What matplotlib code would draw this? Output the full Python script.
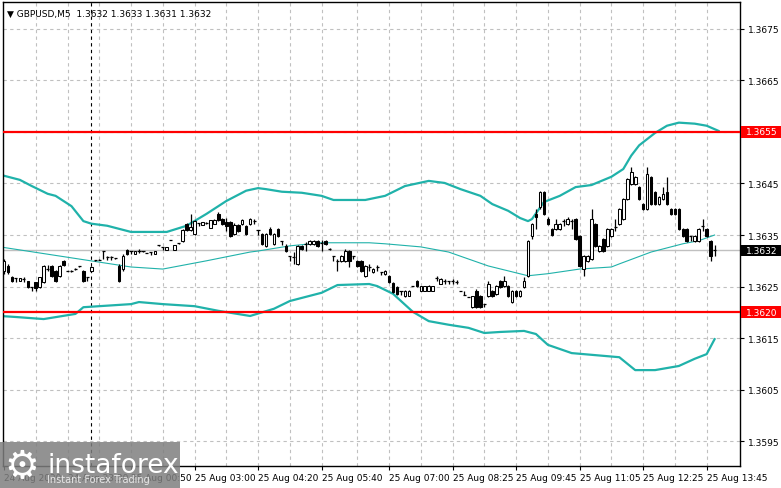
import matplotlib.pyplot as plt
from matplotlib.patches import Rectangle
from matplotlib.transforms import blended_transform_factory

# GBPUSD M5 candles
opens = [1.36280, 1.36290, 1.36269, 1.36267, 1.36261, 1.36265, 1.36261, 1.36249, 1.36259, 1.36249,
         1.36259, 1.36284, 1.36290, 1.36280, 1.36271, 1.36300, 1.36280, 1.36280, 1.36284, 1.36290,
         1.36280, 1.36269, 1.36280, 1.36302, 1.36302, 1.36319, 1.36307, 1.36307, 1.36306, 1.36290,
         1.36284, 1.36321, 1.36319, 1.36313, 1.36319, 1.36319, 1.36315, 1.36317, 1.36313, 1.36331,
         1.36327, 1.36321, 1.36340, 1.36321, 1.36335, 1.36339, 1.36372, 1.36360, 1.36352, 1.36373,
         1.36370, 1.36373, 1.36364, 1.36372, 1.36391, 1.36381, 1.36375, 1.36375, 1.36352, 1.36370,
         1.36372, 1.36368, 1.36372, 1.36377, 1.36360, 1.36352, 1.36329, 1.36362, 1.36333, 1.36362,
         1.36339, 1.36329, 1.36309, 1.36307, 1.36294, 1.36329, 1.36333, 1.36333, 1.36333, 1.36339,
         1.36335, 1.36339, 1.36323, 1.36309, 1.36300, 1.36300, 1.36300, 1.36319, 1.36309, 1.36300,
         1.36300, 1.36271, 1.36288, 1.36278, 1.36288, 1.36278, 1.36275, 1.36271, 1.36257, 1.36249,
         1.36242, 1.36232, 1.36232, 1.36251, 1.36261, 1.36242, 1.36242, 1.36242, 1.36242, 1.36267,
         1.36255, 1.36261, 1.36261, 1.36261, 1.36259, 1.36242, 1.36234, 1.36230, 1.36210, 1.36242,
         1.36232, 1.36216, 1.36232, 1.36242, 1.36236, 1.36261, 1.36251, 1.36251, 1.36220, 1.36242,
         1.36232, 1.36249, 1.36271, 1.36348, 1.36391, 1.36404, 1.36434, 1.36381, 1.36362, 1.36362,
         1.36362, 1.36377, 1.36372, 1.36377, 1.36381, 1.36348, 1.36284, 1.36300, 1.36304, 1.36372,
         1.36319, 1.36342, 1.36329, 1.36348, 1.36366, 1.36372, 1.36381, 1.36420, 1.36449, 1.36449,
         1.36443, 1.36410, 1.36401, 1.36463, 1.36434, 1.36410, 1.36420, 1.36434, 1.36401, 1.36401,
         1.36401, 1.36362, 1.36362, 1.36348, 1.36339, 1.36339, 1.36368, 1.36362, 1.36339, 1.36320]
highs = [1.36304, 1.36294, 1.36271, 1.36267, 1.36267, 1.36269, 1.36261, 1.36249, 1.36259, 1.36269,
         1.36292, 1.36292, 1.36292, 1.36282, 1.36292, 1.36302, 1.36280, 1.36282, 1.36286, 1.36290,
         1.36282, 1.36269, 1.36290, 1.36302, 1.36304, 1.36319, 1.36309, 1.36309, 1.36306, 1.36294,
         1.36313, 1.36323, 1.36319, 1.36319, 1.36323, 1.36319, 1.36315, 1.36317, 1.36319, 1.36331,
         1.36327, 1.36327, 1.36340, 1.36331, 1.36335, 1.36362, 1.36373, 1.36391, 1.36379, 1.36373,
         1.36375, 1.36375, 1.36379, 1.36381, 1.36395, 1.36383, 1.36383, 1.36377, 1.36373, 1.36372,
         1.36381, 1.36370, 1.36383, 1.36381, 1.36360, 1.36354, 1.36354, 1.36366, 1.36354, 1.36364,
         1.36339, 1.36333, 1.36309, 1.36317, 1.36331, 1.36331, 1.36337, 1.36340, 1.36340, 1.36340,
         1.36340, 1.36340, 1.36325, 1.36309, 1.36304, 1.36311, 1.36323, 1.36321, 1.36309, 1.36302,
         1.36302, 1.36292, 1.36294, 1.36286, 1.36292, 1.36278, 1.36282, 1.36273, 1.36259, 1.36251,
         1.36242, 1.36243, 1.36243, 1.36251, 1.36263, 1.36251, 1.36251, 1.36253, 1.36251, 1.36271,
         1.36267, 1.36265, 1.36261, 1.36265, 1.36263, 1.36242, 1.36242, 1.36230, 1.36232, 1.36245,
         1.36234, 1.36216, 1.36261, 1.36243, 1.36253, 1.36263, 1.36271, 1.36253, 1.36243, 1.36243,
         1.36243, 1.36269, 1.36340, 1.36373, 1.36401, 1.36436, 1.36436, 1.36385, 1.36364, 1.36381,
         1.36373, 1.36381, 1.36385, 1.36381, 1.36383, 1.36350, 1.36311, 1.36311, 1.36401, 1.36373,
         1.36331, 1.36344, 1.36364, 1.36364, 1.36381, 1.36403, 1.36422, 1.36461, 1.36482, 1.36465,
         1.36445, 1.36412, 1.36482, 1.36465, 1.36436, 1.36426, 1.36443, 1.36463, 1.36403, 1.36403,
         1.36403, 1.36364, 1.36364, 1.36348, 1.36350, 1.36364, 1.36381, 1.36364, 1.36340, 1.36330]
lows = [1.36275, 1.36275, 1.36259, 1.36259, 1.36261, 1.36259, 1.36247, 1.36242, 1.36242, 1.36247,
        1.36257, 1.36280, 1.36269, 1.36259, 1.36269, 1.36290, 1.36280, 1.36278, 1.36282, 1.36288,
        1.36259, 1.36261, 1.36278, 1.36300, 1.36302, 1.36304, 1.36302, 1.36302, 1.36304, 1.36259,
        1.36280, 1.36311, 1.36313, 1.36313, 1.36315, 1.36317, 1.36315, 1.36311, 1.36313, 1.36329,
        1.36321, 1.36321, 1.36340, 1.36321, 1.36333, 1.36337, 1.36358, 1.36358, 1.36350, 1.36368,
        1.36370, 1.36372, 1.36364, 1.36372, 1.36377, 1.36370, 1.36358, 1.36346, 1.36350, 1.36356,
        1.36370, 1.36350, 1.36370, 1.36372, 1.36350, 1.36331, 1.36327, 1.36350, 1.36331, 1.36346,
        1.36331, 1.36317, 1.36300, 1.36294, 1.36292, 1.36321, 1.36319, 1.36331, 1.36331, 1.36327,
        1.36319, 1.36331, 1.36321, 1.36300, 1.36280, 1.36298, 1.36298, 1.36288, 1.36304, 1.36288,
        1.36278, 1.36269, 1.36280, 1.36276, 1.36280, 1.36273, 1.36273, 1.36257, 1.36238, 1.36234,
        1.36234, 1.36230, 1.36232, 1.36251, 1.36249, 1.36242, 1.36242, 1.36242, 1.36242, 1.36261,
        1.36255, 1.36255, 1.36255, 1.36255, 1.36255, 1.36242, 1.36234, 1.36230, 1.36209, 1.36209,
        1.36209, 1.36210, 1.36230, 1.36230, 1.36234, 1.36247, 1.36249, 1.36230, 1.36218, 1.36230,
        1.36230, 1.36247, 1.36269, 1.36342, 1.36362, 1.36401, 1.36389, 1.36370, 1.36348, 1.36360,
        1.36360, 1.36368, 1.36370, 1.36362, 1.36340, 1.36288, 1.36271, 1.36298, 1.36302, 1.36327,
        1.36317, 1.36317, 1.36327, 1.36346, 1.36358, 1.36370, 1.36379, 1.36418, 1.36447, 1.36447,
        1.36418, 1.36399, 1.36399, 1.36408, 1.36408, 1.36408, 1.36418, 1.36408, 1.36389, 1.36389,
        1.36360, 1.36346, 1.36337, 1.36339, 1.36337, 1.36337, 1.36358, 1.36346, 1.36300, 1.36310]
closes = [1.36300, 1.36278, 1.36261, 1.36267, 1.36267, 1.36265, 1.36249, 1.36249, 1.36247, 1.36269,
          1.36290, 1.36284, 1.36271, 1.36261, 1.36290, 1.36292, 1.36280, 1.36280, 1.36284, 1.36290,
          1.36261, 1.36269, 1.36288, 1.36302, 1.36302, 1.36319, 1.36307, 1.36307, 1.36306, 1.36261,
          1.36309, 1.36313, 1.36319, 1.36319, 1.36319, 1.36319, 1.36315, 1.36317, 1.36319, 1.36331,
          1.36327, 1.36327, 1.36340, 1.36331, 1.36335, 1.36360, 1.36360, 1.36366, 1.36377, 1.36373,
          1.36375, 1.36373, 1.36379, 1.36379, 1.36379, 1.36372, 1.36368, 1.36348, 1.36370, 1.36358,
          1.36379, 1.36352, 1.36381, 1.36377, 1.36360, 1.36333, 1.36352, 1.36352, 1.36352, 1.36348,
          1.36339, 1.36319, 1.36309, 1.36307, 1.36329, 1.36323, 1.36333, 1.36339, 1.36339, 1.36329,
          1.36335, 1.36333, 1.36323, 1.36309, 1.36300, 1.36309, 1.36319, 1.36300, 1.36309, 1.36290,
          1.36280, 1.36290, 1.36288, 1.36284, 1.36288, 1.36278, 1.36280, 1.36259, 1.36240, 1.36236,
          1.36242, 1.36242, 1.36242, 1.36251, 1.36251, 1.36251, 1.36251, 1.36251, 1.36251, 1.36267,
          1.36265, 1.36261, 1.36261, 1.36261, 1.36259, 1.36242, 1.36234, 1.36230, 1.36232, 1.36210,
          1.36210, 1.36216, 1.36255, 1.36232, 1.36251, 1.36249, 1.36261, 1.36232, 1.36242, 1.36232,
          1.36242, 1.36261, 1.36339, 1.36372, 1.36385, 1.36434, 1.36391, 1.36372, 1.36350, 1.36372,
          1.36372, 1.36377, 1.36381, 1.36377, 1.36342, 1.36290, 1.36309, 1.36309, 1.36381, 1.36329,
          1.36329, 1.36319, 1.36362, 1.36362, 1.36366, 1.36401, 1.36420, 1.36459, 1.36472, 1.36463,
          1.36420, 1.36401, 1.36469, 1.36410, 1.36410, 1.36424, 1.36430, 1.36410, 1.36391, 1.36391,
          1.36362, 1.36348, 1.36339, 1.36348, 1.36348, 1.36362, 1.36368, 1.36348, 1.36309, 1.36320]

# Bollinger bands, sampled along the chart (bar index, price)
upper_bar = [-1, 4, 7, 11, 13, 17, 20, 22, 26, 32, 41, 46, 51, 56, 61, 64, 66, 70, 75, 80,
             83, 91, 96, 101, 107, 111, 115, 120, 123, 127, 130, 132, 133, 136, 138, 140, 144, 148,
             153, 156, 158, 160, 164, 167, 170, 174, 177, 180]
upper_val = [1.36467, 1.36457, 1.36445, 1.36430, 1.36426, 1.36406, 1.36377, 1.36372, 1.36368, 1.36356,
             1.36356, 1.36368, 1.36391, 1.36416, 1.36436, 1.36441, 1.36439, 1.36434, 1.36432, 1.36426,
             1.36418, 1.36418, 1.36426, 1.36445, 1.36455, 1.36451, 1.36439, 1.36426, 1.36410, 1.36397,
             1.36383, 1.36377, 1.36381, 1.36414, 1.36420, 1.36426, 1.36443, 1.36447, 1.36463, 1.36478,
             1.36504, 1.36524, 1.36548, 1.36562, 1.36568, 1.36566, 1.36562, 1.36552]
mid_bar = [-1, 32, 40, 51, 62, 64, 72, 80, 92, 96, 105, 112, 122, 132, 137, 145, 153, 155,
           163, 171, 175, 179]
mid_val = [1.36327, 1.36288, 1.36284, 1.36300, 1.36317, 1.36319, 1.36329, 1.36335, 1.36335, 1.36333,
           1.36327, 1.36317, 1.36290, 1.36271, 1.36275, 1.36284, 1.36288, 1.36294, 1.36317, 1.36333,
           1.36339, 1.36350]
lower_bar = [-1, 3, 10, 18, 20, 24, 32, 34, 40, 48, 54, 62, 68, 72, 80, 84, 92, 94, 98, 100,
             103, 107, 112, 117, 121, 125, 131, 134, 137, 143, 152, 155, 159, 164, 170, 174, 177, 179]
lower_val = [1.36193, 1.36191, 1.36187, 1.36197, 1.36210, 1.36212, 1.36216, 1.36220, 1.36216, 1.36212,
             1.36203, 1.36193, 1.36207, 1.36222, 1.36238, 1.36253, 1.36255, 1.36251, 1.36236, 1.36222,
             1.36201, 1.36183, 1.36176, 1.36170, 1.36160, 1.36162, 1.36164, 1.36158, 1.36137, 1.36121,
             1.36115, 1.36113, 1.36088, 1.36088, 1.36096, 1.36110, 1.36119, 1.36148]

levels = [1.3655, 1.3620]
last_price = 1.3632
title = "\u25bc GBPUSD,M5  1.3632 1.3633 1.3631 1.3632"

price_ticks = [1.3595, 1.3605, 1.3615, 1.3625, 1.3635, 1.3645, 1.3655, 1.3665, 1.3675]
time_ticks = [0, 16, 32, 48, 64, 80, 97, 113, 129, 145, 161, 177]
time_labels = ["24 Aug 2020", "24 Aug 23:30", "25 Aug 00:50", "25 Aug 03:00", "25 Aug 04:20",
               "25 Aug 05:40", "25 Aug 07:00", "25 Aug 08:25", "25 Aug 09:45", "25 Aug 11:05",
               "25 Aug 12:25", "25 Aug 13:45"]
grid_bars = [8, 16, 24, 32, 40, 48, 56, 64, 72, 80, 89, 97, 105, 113, 121, 129, 137, 145,
             153, 161, 169, 177]
separator_bar = 22

plt.rcParams['font.family'] = ['DejaVu Sans']
fig = plt.figure(figsize=(7.81, 4.89), dpi=100)
ax = fig.add_axes([3 / 781, 22 / 489, 737 / 781, 464 / 489])
ax.set_xlim(-0.25, 185.4)
ax.set_ylim(1.35902, 1.36802)

# grid
for p in price_ticks:
    ax.axhline(p, color='#c0c0c0', lw=0.8, dashes=(3, 3), zorder=0)
for b in grid_bars:
    ax.axvline(b, color='#c0c0c0', lw=0.8, dashes=(3, 3), zorder=0)
ax.axvline(separator_bar, color='black', lw=0.8, dashes=(3, 3), zorder=1)
ax.axhline(last_price, color='#c0c0c0', lw=1.0, zorder=1)

# bands
ax.plot(upper_bar, upper_val, color='#20b2aa', lw=1.6, zorder=2)
ax.plot(lower_bar, lower_val, color='#20b2aa', lw=1.6, zorder=2)
ax.plot(mid_bar, mid_val, color='#20b2aa', lw=0.8, zorder=2)

# levels
for lv in levels:
    ax.axhline(lv, color='red', lw=1.6, zorder=3)

# candles
xs = list(range(len(opens)))
ax.vlines(xs, lows, highs, color='black', lw=0.9, zorder=4)
for x, o, c in zip(xs, opens, closes):
    if abs(c - o) < 1e-6:
        ax.hlines(o, x - 0.4, x + 0.4, color='black', lw=0.9, zorder=5)
    else:
        face = 'white' if c > o else 'black'
        ax.add_patch(Rectangle((x - 0.33, min(o, c)), 0.66, abs(c - o), facecolor=face,
                               edgecolor='black', lw=0.75, zorder=5))

# axes
for s in ax.spines.values():
    s.set_color('black')
    s.set_linewidth(1.0)
ax.yaxis.tick_right()
ax.set_yticks(price_ticks)
# the 1.3655 label sits under the red level box
ax.set_yticklabels(["" if p in levels else f"{p:.4f}" for p in price_ticks])
ax.tick_params(axis='y', length=3, width=0.8, pad=3, labelsize=6.5, colors='black')
ax.set_xticks(time_ticks)
ax.set_xticklabels(time_labels)
for lbl in ax.get_xticklabels():
    lbl.set_ha('left')
ax.tick_params(axis='x', length=3, width=0.8, pad=2, labelsize=6.5)

# price boxes on the right
tr = blended_transform_factory(ax.transAxes, ax.transData)
half = 0.000115
for lv, fc in [(1.3655, 'red'), (1.3620, 'red'), (last_price, 'black')]:
    ax.add_patch(Rectangle((1.0015, lv - half), 0.055, 2 * half, transform=tr,
                           facecolor=fc, edgecolor='none', clip_on=False, zorder=6))
    ax.text(1.008, lv, f"{lv:.4f}", transform=tr, color='white', fontsize=6.5,
            va='center', ha='left', zorder=7, clip_on=False)

ax.text(0.006, 0.985, title, transform=ax.transAxes, fontsize=6.5, va='top', ha='left', zorder=7)

# watermark
fig.add_artist(Rectangle((0, 0), 180 / 781, 46 / 489, transform=fig.transFigure,
                         facecolor='#7f7f7f', alpha=0.85, edgecolor='none', zorder=10))
fig.text(4 / 781, 22 / 489, "\u2699", color='white', fontsize=28, va='center', ha='left', zorder=11)
fig.text(47 / 781, 23 / 489, "instaforex", color='white', fontsize=19, va='center', ha='left', zorder=11)
fig.text(47 / 781, 4 / 489, "Instant Forex Trading", color='#e6e6e6', fontsize=7, va='bottom',
         ha='left', zorder=11)

fig.savefig("out.png", dpi=100)
